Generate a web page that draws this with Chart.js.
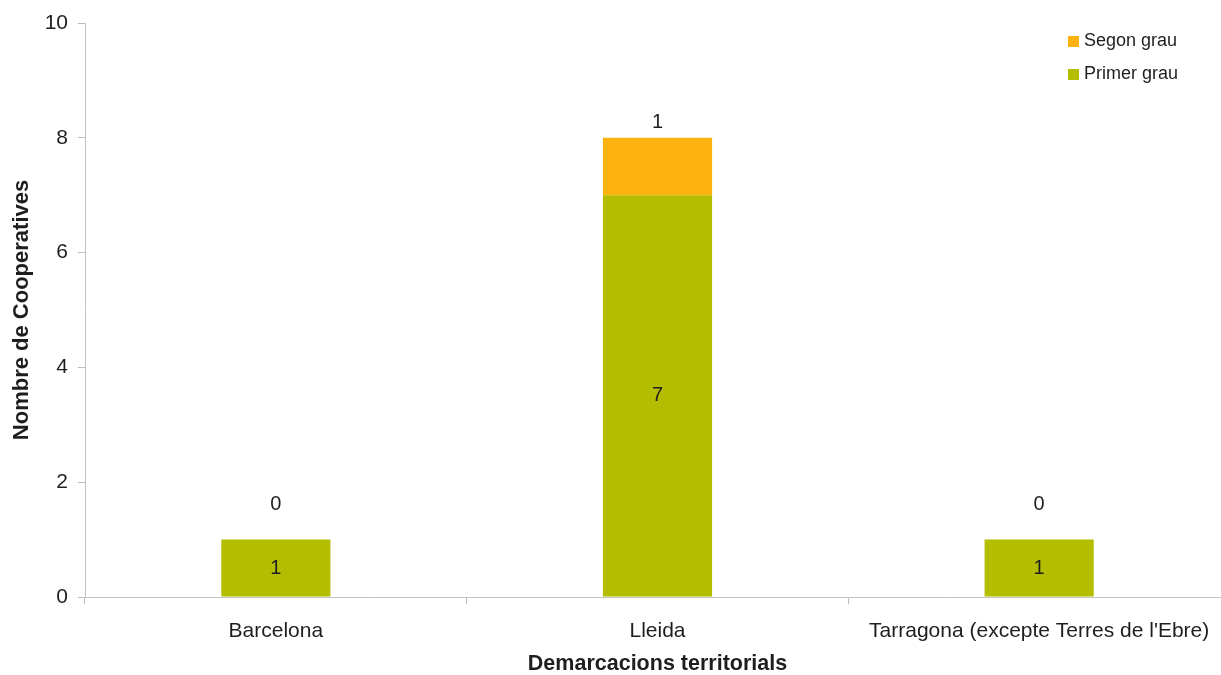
<!DOCTYPE html>
<html lang="ca">
<head>
<meta charset="utf-8">
<title>Cooperatives per demarcació</title>
<script src="https://cdn.jsdelivr.net/npm/chart.js@4.4.0/dist/chart.umd.min.js"></script>
<style>
  html, body { margin: 0; padding: 0; background: #fff; overflow: hidden; }
  canvas { display: block; }
</style>
</head>
<body>
<canvas id="grafic" width="1230" height="675"></canvas>
<script>
// dades llegides del gràfic
var demarcacions = ['Barcelona', 'Lleida', "Tarragona (excepte Terres de l'Ebre)"];
var primerGrau = [1, 7, 1];
var segonGrau = [0, 1, 0];
var ticksY = [0, 2, 4, 6, 8, 10];

var FONT = '"Liberation Sans", Arial, Helvetica, sans-serif';
var verd = 'rgb(181,189,0)';
var taronja = 'rgb(254,178,16)';

// etiquetes de valor sobre les barres
var etiquetes = {
  id: 'etiquetes',
  afterDatasetsDraw: function (chart) {
    var ctx = chart.ctx;
    ctx.save();
    ctx.font = '20px ' + FONT;
    ctx.fillStyle = '#1e1e1e';
    ctx.textAlign = 'center';
    ctx.textBaseline = 'middle';
    chart.data.datasets.forEach(function (ds, i) {
      var meta = chart.getDatasetMeta(i);
      meta.data.forEach(function (bar, j) {
        var v = ds.data[j];
        var y;
        if (i === 0) {
          y = (bar.y + bar.base) / 2;
        } else {
          y = bar.y - (v > 0 ? 15 : 35);
        }
        ctx.fillText(String(v), bar.x, y);
      });
    });
    ctx.restore();
  }
};

// llegenda a dalt a la dreta, ordre invers
var llegenda = {
  id: 'llegenda',
  afterDraw: function (chart) {
    var ctx = chart.ctx;
    ctx.save();
    ctx.font = '18px ' + FONT;
    ctx.textBaseline = 'middle';
    var ds = chart.data.datasets.slice().reverse();
    ds.forEach(function (d, k) {
      var y = 41 + k * 33;
      ctx.fillStyle = d.backgroundColor;
      ctx.fillRect(1068, y - 5, 11, 11);
      ctx.fillStyle = '#1e1e1e';
      ctx.fillText(d.label, 1084, y);
    });
    ctx.restore();
  }
};

new Chart(document.getElementById('grafic'), {
  type: 'bar',
  data: {
    labels: demarcacions,
    datasets: [
      { label: 'Primer grau', data: primerGrau, backgroundColor: verd, borderWidth: 0 },
      { label: 'Segon grau', data: segonGrau, backgroundColor: taronja, borderWidth: 0 }
    ]
  },
  options: {
    responsive: false,
    animation: false,
    layout: { padding: { top: 23, right: 0, left: 0, bottom: 0 } },
    datasets: { bar: { categoryPercentage: 1, barPercentage: 0.286 } },
    plugins: { legend: { display: false }, tooltip: { enabled: false } },
    scales: {
      x: {
        stacked: true,
        grid: { display: true, drawOnChartArea: false, offset: true, tickLength: 7, color: '#bdbdbd' },
        border: { color: '#c4c4c4', width: 1 },
        ticks: { color: '#1e1e1e', font: { family: FONT, size: 21 }, padding: 15, maxRotation: 0, autoSkip: false },
        title: { display: true, text: 'Demarcacions territorials', color: '#1e1e1e',
                 font: { family: FONT, size: 21.5, weight: 'bold', lineHeight: 1 }, padding: { top: 0, bottom: 0 } },
        afterFit: function (s) { s.height = 78; }
      },
      y: {
        stacked: true,
        min: 0,
        max: 10,
        afterBuildTicks: function (s) { s.ticks = ticksY.map(function (v) { return { value: v }; }); },
        grid: { display: true, drawOnChartArea: false, tickLength: 7, color: '#bdbdbd' },
        border: { color: '#c4c4c4', width: 1 },
        ticks: { color: '#1e1e1e', font: { family: FONT, size: 21 }, padding: 10 },
        title: { display: true, text: 'Nombre de Cooperatives', color: '#1e1e1e',
                 font: { family: FONT, size: 22, weight: 'bold' }, padding: { top: 9, bottom: 0 } },
        afterFit: function (s) { s.width = 85; }
      }
    }
  },
  plugins: [etiquetes, llegenda]
});
</script>
</body>
</html>
